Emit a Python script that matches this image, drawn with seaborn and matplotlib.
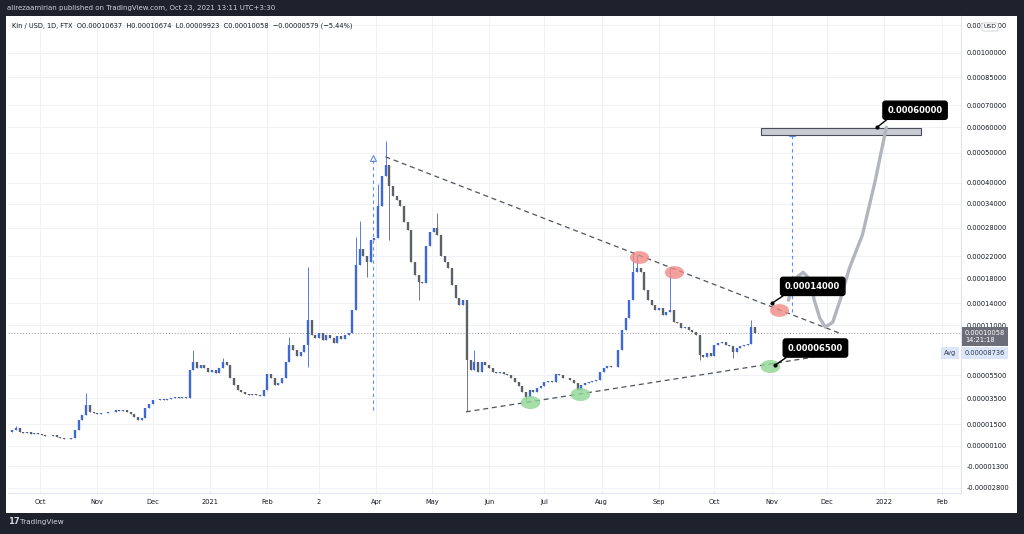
import numpy as np
import pandas as pd
import matplotlib
matplotlib.use("Agg")
import matplotlib.pyplot as plt
import matplotlib.dates as mdates
from matplotlib.patches import Rectangle
from matplotlib.path import Path
import seaborn as sns

# ---- data (prices in units of 1e-5 USD) ----
FIRST_DATE = "2020-09-16"   # one candle every 2 days
FIRST_OPEN_E5 = 1.00
CLOSES_E5 = [
    1.13, 1.26, 0.99, 0.93, 0.99, 0.86, 0.93, 0.86, 0.80, 0.73,
    0.73, 0.80, 0.67, 0.60, 0.54, 0.54, 0.60, 1.13, 1.82, 2.19,
    2.95, 2.41, 2.34, 2.26, 2.34, 2.34, 2.41, 2.41, 2.56, 2.49,
    2.56, 2.41, 2.26, 2.04, 1.82, 1.97, 2.71, 3.03, 3.35, 3.35,
    3.43, 3.35, 3.43, 3.51, 3.59, 3.51, 3.59, 3.51, 6.01, 6.80,
    6.20, 6.50, 6.20, 5.82, 6.01, 5.72, 6.20, 6.80, 6.50, 5.25,
    4.62, 4.18, 4.02, 3.85, 3.76, 3.85, 3.76, 3.68, 4.18, 5.60,
    5.25, 4.62, 4.80, 5.25, 6.80, 8.63, 8.07, 7.42, 7.85, 8.63,
    11.68, 9.79, 9.43, 10.03, 9.20, 9.79, 9.43, 8.86, 9.67, 9.32,
    9.79, 10.03, 13.03, 20.25, 23.5, 22.1, 20.8, 25.2, 25.6, 33.5,
    42.2, 45.5, 39.1, 36.2, 34.86, 33.5, 29.4, 27.4, 20.8, 18.5,
    17.3, 17.13, 24.1, 27.0, 27.9, 26.3, 22.1, 20.8, 19.7, 16.8,
    14.8, 13.7, 14.47, 7.01, 6.01, 6.80, 5.82, 6.80, 6.50, 6.20,
    5.82, 5.72, 5.82, 5.60, 5.50, 5.25, 4.90, 4.53, 4.02, 3.59,
    4.18, 4.02, 4.35, 4.53, 4.90, 4.98, 4.90, 5.60, 5.50, 5.25,
    5.25, 5.07, 4.80, 4.18, 4.62, 4.80, 4.90, 4.98, 5.07, 5.82,
    6.20, 6.40, 6.30, 6.30, 8.07, 10.40, 11.94, 14.47, 19.0, 19.7,
    19.0, 16.0, 14.47, 13.7, 13.03, 13.3, 12.34, 12.75, 13.03, 11.4,
    11.29, 10.65, 10.78, 10.40, 10.15, 9.79, 7.53, 7.32, 7.74, 7.42,
    8.63, 8.86, 8.98, 8.63, 8.5, 7.85, 8.3, 8.5, 8.63, 8.75,
    10.78, 10.06,
]
WICK_HIGHS_E5 = {1: 1.40, 20: 3.93, 49: 8.07, 57: 7.2, 75: 9.6, 80: 19.9, 93: 26.0,
                 94: 29.7, 99: 39.7, 101: 54.5, 115: 31.5, 125: 8.07, 168: 22.7,
                 169: 22.2, 178: 19.9, 200: 11.68}
WICK_LOWS_E5 = {80: 6.3, 96: 18.2, 102: 25.2, 110: 14.47, 123: 2.49, 139: 3.35,
                186: 7.0, 195: 7.2}

LAST_CLOSE = 0.00010058
AVG_PRICE = 0.00008736

UPPER_LINE_DATES = ["2021-04-06", "2021-12-09"]
UPPER_LINE_PRICES = [0.000485, 0.0000991]
LOWER_LINE_DATES = ["2021-05-19 12:00", "2021-11-24 00:00"]
LOWER_LINE_PRICES = [0.0000241, 0.0000732]

RANGE_DATES = ["2021-03-30", "2021-11-12"]
RANGE_FROM = [0.0000256, 0.0001275]
RANGE_TO = [0.000482, 0.000575]

TARGET_DATES = ["2021-10-26", "2022-01-21"]
TARGET_PRICES = [0.000569, 0.000598]

PATH_DATES = ["2021-11-10", "2021-11-14", "2021-11-18", "2021-11-22", "2021-11-24",
              "2021-11-27", "2021-11-30", "2021-12-04", "2021-12-08", "2021-12-13",
              "2021-12-20", "2021-12-27", "2022-01-02"]
PATH_PRICES_E5 = [14.47, 17.96, 19.0, 17.62, 14.47, 11.94, 10.78, 11.4, 14.47,
                  19.7, 26.3, 40.6, 60.0]

RED_DATES = ["2021-08-21", "2021-09-09", "2021-11-05"]
RED_PRICES = [0.0002176, 0.000190, 0.000130]
GREEN_DATES = ["2021-06-23", "2021-07-20", "2021-10-31"]
GREEN_PRICES = [0.0000319, 0.0000385, 0.000064]

CALLOUT_DATES = ["2021-12-28", "2021-11-01", "2021-11-03"]
CALLOUT_PRICES = [0.0006, 0.00014, 0.000065]
CALLOUT_TEXTS = ["0.00060000", "0.00014000", "0.00006500"]

YTICKS = [0.0012, 0.001, 0.00085, 0.0007, 0.0006, 0.0005, 0.0004, 0.00034, 0.00028,
          0.00022, 0.00018, 0.00014, 0.00011, 0.000055, 0.000035, 0.000015,
          0.000001, -0.000013, -0.000028]
XTICK_DATES = ["2020-10-01", "2020-11-01", "2020-12-01", "2021-01-01", "2021-02-01",
               "2021-03-01", "2021-04-01", "2021-05-01", "2021-06-01", "2021-07-01",
               "2021-08-01", "2021-09-01", "2021-10-01", "2021-11-01", "2021-12-01",
               "2022-01-01", "2022-02-01"]
XTICK_LABELS = ["Oct", "Nov", "Dec", "2021", "Feb", "2", "Apr", "May", "Jun", "Jul",
                "Aug", "Sep", "Oct", "Nov", "Dec", "2022", "Feb"]

UP = "#3d68d8"
DOWN = "#5d6069"
TEXT = "#131722"

# TradingView style log scale with an offset so values near zero still show
C = 0.0001
K = 0.88


def fwd(y):
    y = np.asarray(y, dtype=float)
    return np.where(y >= 0, np.log(np.maximum(y, 0) + C), np.log(C) + K * y / C)


def inv(v):
    v = np.asarray(v, dtype=float)
    return np.where(v >= np.log(C), np.exp(np.minimum(v, 50)) - C, (v - np.log(C)) * C / K)


def dn(s):
    return mdates.date2num(pd.to_datetime(s, format="ISO8601"))


sns.set_theme(style="white")
plt.rcParams["font.family"] = ["DejaVu Sans"]

fig = plt.figure(figsize=(10.24, 5.34), dpi=100)
fig.patch.set_facecolor("#1e222d")
fig.add_artist(Rectangle((6 / 1024, 1 - 513 / 534), 1011 / 1024, 497 / 534,
                         transform=fig.transFigure, facecolor="white",
                         edgecolor="none", zorder=-1))

ax = fig.add_axes([8 / 1024, 1 - 493 / 534, 953 / 1024, 477 / 534])
ax.set_facecolor("white")
ax.set_yscale("function", functions=(fwd, inv))
ax.set_ylim(-0.0000315, 0.0012766)
ax.set_xlim(dn("2020-09-13 17:00"), dn("2022-02-11 10:00"))

# candles
closes = np.array(CLOSES_E5) * 1e-5
opens = np.array([FIRST_OPEN_E5] + CLOSES_E5[:-1]) * 1e-5
dates = pd.date_range(FIRST_DATE, periods=len(closes), freq="2D")
xs = mdates.date2num(dates)
highs = np.maximum(opens, closes)
lows = np.minimum(opens, closes)
for i, h in WICK_HIGHS_E5.items():
    highs[i] = max(highs[i], h * 1e-5)
for i, l in WICK_LOWS_E5.items():
    lows[i] = min(lows[i], l * 1e-5)
colors = [UP if c >= o else DOWN for o, c in zip(opens, closes)]
ax.vlines(xs, lows, highs, colors=colors, lw=0.6, zorder=2)
ax.vlines(xs, np.minimum(opens, closes), np.maximum(opens, closes),
          colors=colors, lw=1.7, zorder=2)

# last price dotted line
ax.axhline(LAST_CLOSE, color="#9598a1", ls=(0, (1, 2)), lw=0.7, zorder=1)

# triangle
ax.plot(dn(UPPER_LINE_DATES), UPPER_LINE_PRICES, color="#50535e", ls=(0, (4, 3)), lw=0.9, zorder=3)
ax.plot(dn(LOWER_LINE_DATES), LOWER_LINE_PRICES, color="#50535e", ls=(0, (4, 3)), lw=0.9, zorder=3)

# measured moves
for d, y0, y1 in zip(RANGE_DATES, RANGE_FROM, RANGE_TO):
    ax.vlines(dn(d), y0, y1, colors="#5b8def", linestyles=(0, (3, 3)), lw=0.8, zorder=3)
    ax.plot(dn(d), y1, marker="^", ms=4, mfc="none", mec="#5b8def", mew=0.8, zorder=3)

# target box
tx = dn(TARGET_DATES)
ax.add_patch(Rectangle((tx[0], TARGET_PRICES[0]), tx[1] - tx[0],
                       TARGET_PRICES[1] - TARGET_PRICES[0],
                       facecolor="#c9ccd2", edgecolor="#4a4d57", lw=0.8, zorder=3))

# projected path
sns.lineplot(x=dn(PATH_DATES), y=np.array(PATH_PRICES_E5) * 1e-5, ax=ax, sort=False,
             estimator=None, color="#b2b5be", lw=2.4, zorder=3)

# highlight ellipses
t = np.linspace(0, 2 * np.pi, 60)
ellipse = Path(np.column_stack([1.5 * np.cos(t), np.sin(t)]))
ax.scatter(dn(RED_DATES), RED_PRICES, s=190, marker=ellipse, c="#f08a84",
           alpha=0.8, linewidths=0, zorder=4)
ax.scatter(dn(GREEN_DATES), GREEN_PRICES, s=200, marker=ellipse, c="#8fd694",
           alpha=0.8, linewidths=0, zorder=4)

# callouts
offsets = [(38, 17), (41, 17), (40, 17)]
for d, p, txt, off in zip(CALLOUT_DATES, CALLOUT_PRICES, CALLOUT_TEXTS, offsets):
    ax.scatter(dn(d), p, s=4, c="black", zorder=6)
    ax.annotate(txt, xy=(dn(d), p), xytext=off, textcoords="offset pixels",
                ha="center", va="center", fontsize=6, fontweight="bold", color="white",
                bbox=dict(boxstyle="round,pad=0.55,rounding_size=0.3", fc="black", ec="black"),
                arrowprops=dict(arrowstyle="-", color="black", lw=1.0, shrinkA=0,
                                shrinkB=0, relpos=(0.1, 0.0)),
                zorder=7)

# grid & axes
ax.set_yticks(YTICKS, [f"{v:.8f}" for v in YTICKS])
ax.set_xticks(dn(XTICK_DATES), XTICK_LABELS)
ax.yaxis.tick_right()
ax.tick_params(axis="y", labelsize=4.8, colors=TEXT, length=0, pad=4.3)
ax.tick_params(axis="x", labelsize=4.8, colors=TEXT, length=0, pad=4.3)
ax.grid(True, color="#eef1f6", lw=0.7, zorder=0)
for side in ["top", "left"]:
    ax.spines[side].set_visible(False)
for side in ["right", "bottom"]:
    ax.spines[side].set_color("#e0e3eb")
    ax.spines[side].set_linewidth(0.8)

# price axis labels
ax.annotate("0.00010058\n14:21:18", xy=(1, LAST_CLOSE), xycoords=("axes fraction", "data"),
            xytext=(4, -4), textcoords="offset pixels", ha="left", va="center",
            fontsize=4.8, color="white", linespacing=1.2, annotation_clip=False,
            bbox=dict(boxstyle="square,pad=0.45", fc="#6b6e78", ec="none"), zorder=8)
ax.annotate("0.00008736", xy=(1, AVG_PRICE), xycoords=("axes fraction", "data"),
            xytext=(4, -9), textcoords="offset pixels", ha="left", va="center",
            fontsize=4.8, color="#2a3b5c", annotation_clip=False,
            bbox=dict(boxstyle="square,pad=0.4", fc="#dce6f7", ec="none"), zorder=8)
ax.annotate("Avg", xy=(1, AVG_PRICE), xycoords=("axes fraction", "data"),
            xytext=(-11, -9), textcoords="offset pixels", ha="center", va="center",
            fontsize=4.8, color="#2a3b5c", annotation_clip=False,
            bbox=dict(boxstyle="square,pad=0.4", fc="#dce6f7", ec="none"), zorder=8)

fig.text(990 / 1024, 1 - 27 / 534, "USD", fontsize=4.4, color=TEXT, ha="center", va="center",
         bbox=dict(boxstyle="round,pad=0.25", fc="white", ec="#c9ccd2", lw=0.6), zorder=10)

# titles
ax.text(0.004, 0.979,
        "Kin / USD, 1D, FTX  O0.00010637  H0.00010674  L0.00009923  C0.00010058  "
        "\u22120.00000579 (\u22125.44%)",
        transform=ax.transAxes, fontsize=4.75, color=TEXT, ha="left", va="center")
fig.text(7 / 1024, 1 - 8 / 534,
         "alirezaamirian published on TradingView.com, Oct 23, 2021 13:11 UTC+3:30",
         fontsize=5.0, color="#d1d4dc", ha="left", va="center")
fig.text(8 / 1024, 1 - 522 / 534, "17", fontsize=6, fontweight="bold", color="#d1d4dc",
         ha="left", va="center")
fig.text(20 / 1024, 1 - 522 / 534, "TradingView", fontsize=5.2, color="#d1d4dc",
         ha="left", va="center")

fig.savefig("out.png", dpi=100, facecolor=fig.get_facecolor())
